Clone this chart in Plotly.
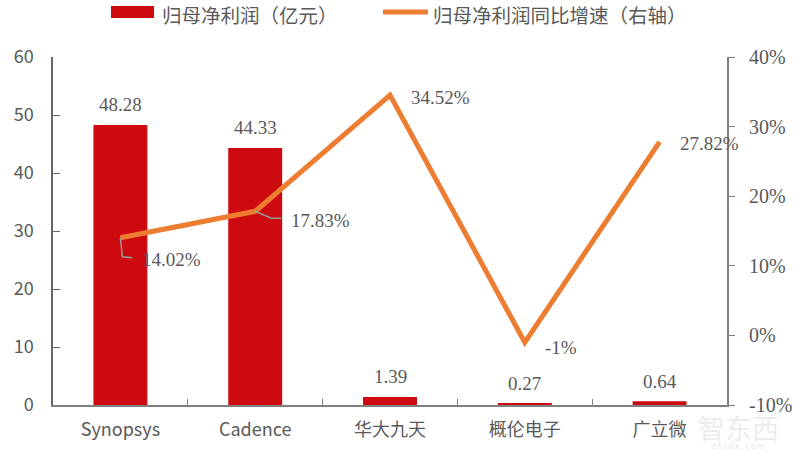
import plotly.graph_objects as go

categories = ["Synopsys", "Cadence", "华大九天", "概伦电子", "广立微"]
profit = [48.28, 44.33, 1.39, 0.27, 0.64]
growth = [14.02, 17.83, 34.52, -1, 27.82]
profit_labels = ["48.28", "44.33", "1.39", "0.27", "0.64"]
growth_labels = ["14.02%", "17.83%", "34.52%", "-1%", "27.82%"]
left_ticks = [0, 10, 20, 30, 40, 50, 60]
right_ticks = [-10, 0, 10, 20, 30, 40]
right_labels = ["-10%", "0%", "10%", "20%", "30%", "40%"]

serif = "Liberation Serif"
sans = "Noto Sans CJK SC"
grey = "#595959"
axis_grey = "#808080"

W, H = 800, 461
L, R, T, B = 53, 73, 57, 56


# 像素坐标转 paper 坐标，图例要手工画
def px_x(v):
    return (v - L) / (W - L - R)


def px_y(v):
    return 1 - (v - T) / (H - T - B)


fig = go.Figure()
fig.add_trace(go.Bar(x=categories, y=profit, name="归母净利润（亿元）", marker_color="#cc0a10",
                     marker_line_width=0, width=0.4))
fig.add_trace(go.Scatter(x=categories, y=growth, name="归母净利润同比增速（右轴）", yaxis="y2",
                         mode="lines", line=dict(color="#ed7d31", width=5), cliponaxis=False))

# 柱子的数据标签
for cat, v, lab in zip(categories, profit, profit_labels):
    fig.add_annotation(x=cat, y=v, text=lab, showarrow=False, yshift=20,
                       font=dict(family=serif, size=19, color=grey))

# 折线的数据标签，位置按原图微调
shifts = [(51, -22), (65, -9), (50, -2), (36, -5), (50, -2)]
for cat, g, lab, (dx, dy) in zip(categories, growth, growth_labels, shifts):
    fig.add_annotation(x=cat, y=g, yref="y2", text=lab, showarrow=False, xshift=dx, yshift=dy,
                       font=dict(family=serif, size=19, color=grey))

# 引导线
leaders = [(0, "M0,0 L2,-19 L12,-20"), (1, "M0,0 L16,-7 L26,-7")]
for i, path in leaders:
    fig.add_shape(type="path", xref="x", yref="y2", xsizemode="pixel", ysizemode="pixel",
                  xanchor=categories[i], yanchor=growth[i], path=path,
                  line=dict(color="#999999", width=1.5), layer="above")

# 图例
fig.add_shape(type="rect", xref="paper", yref="paper", x0=px_x(111), x1=px_x(154), y0=px_y(18), y1=px_y(6),
              fillcolor="#cc0a10", line_width=0)
fig.add_shape(type="line", xref="paper", yref="paper", x0=px_x(383), x1=px_x(428), y0=px_y(12), y1=px_y(12),
              line=dict(color="#ed7d31", width=5))
fig.add_annotation(xref="paper", yref="paper", x=px_x(160), y=px_y(14.5), xanchor="left", yanchor="middle",
                   showarrow=False, text="归母净利润（亿元）", font=dict(family=sans, size=19.5, color=grey))
fig.add_annotation(xref="paper", yref="paper", x=px_x(431), y=px_y(14.5), xanchor="left", yanchor="middle",
                   showarrow=False, text="归母净利润同比增速（右轴）", font=dict(family=sans, size=19.5, color=grey))

# 水印
fig.add_annotation(xref="paper", yref="paper", x=px_x(738), y=px_y(427), xanchor="center", yanchor="middle",
                   showarrow=False, text="智东西", font=dict(family=sans, size=27, color="rgba(190,190,190,0.3)"))
fig.add_annotation(xref="paper", yref="paper", x=px_x(738), y=px_y(445), xanchor="center", yanchor="middle",
                   showarrow=False, text="z h i d x . c o m", font=dict(family=sans, size=8, color="rgba(190,190,190,0.45)"))

fig.update_layout(
    width=W, height=H, autosize=False,
    margin=dict(l=L, r=R, t=T, b=B, autoexpand=False),
    plot_bgcolor="white", paper_bgcolor="white",
    showlegend=False,
    bargap=0.6,
    xaxis=dict(range=[-0.5, 4.5], showline=True, linecolor=axis_grey, linewidth=1.5, ticks="inside", ticklen=6,
               tickcolor=axis_grey, tickson="boundaries", ticklabelstandoff=8,
               tickfont=dict(family=sans, size=18, color=grey)),
    yaxis=dict(range=[0, 60], tickvals=left_ticks, showgrid=False, showline=True, zeroline=False,
               linecolor="#666666", linewidth=1.5, ticks="inside", ticklen=7, tickcolor="#666666",
               ticklabelstandoff=14,
               tickfont=dict(family=sans, size=18, color=grey)),
    yaxis2=dict(range=[-10, 40], tickvals=right_ticks, ticktext=right_labels, overlaying="y", side="right",
                showgrid=False, showline=True, linecolor=axis_grey, linewidth=2, ticks="outside", ticklen=6,
                tickcolor=axis_grey, zeroline=False, ticklabelstandoff=10,
                tickfont=dict(family=serif, size=20, color=grey)),
)
# 去掉页面默认的 8px 边距
fig.write_html("out.html", config={"displayModeBar": False}, post_script="document.body.style.margin='0';")
